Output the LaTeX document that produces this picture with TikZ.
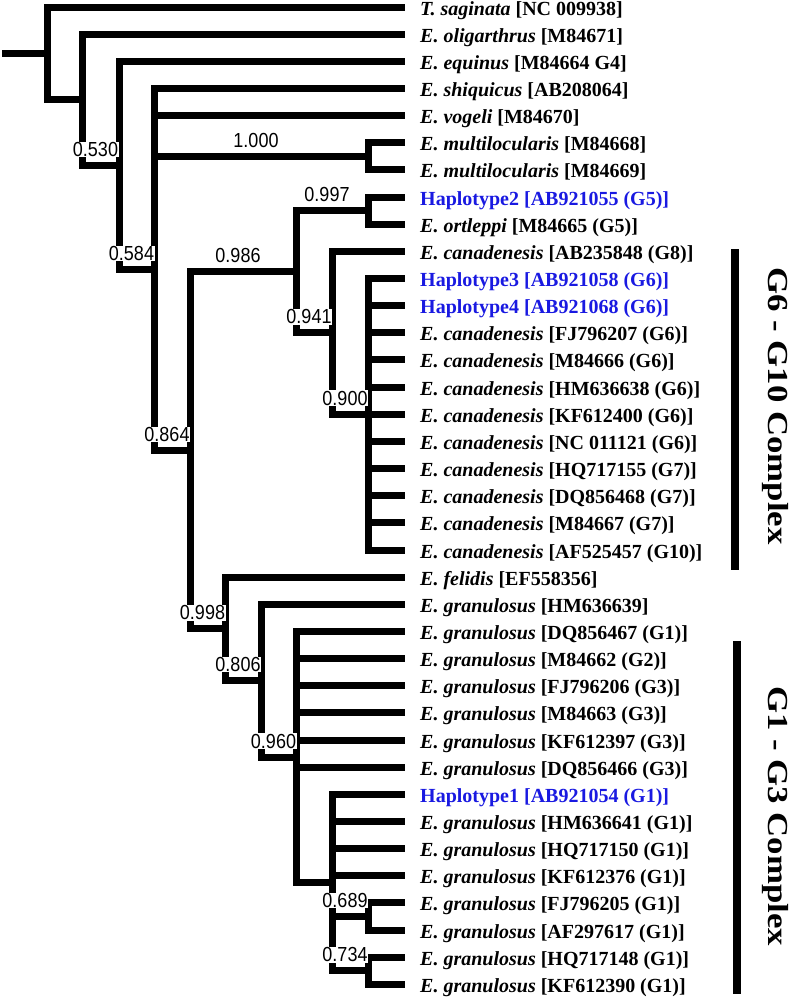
\documentclass[tikz,border=0pt]{standalone}
\usepackage{fontspec}
\setmainfont{Liberation Serif}
\newfontfamily\supfont{Liberation Sans}
\definecolor{hapblue}{RGB}{25,25,225}
\newcommand{\taxon}[2]{\textit{#1} [#2]}
\tikzset{
  branch/.style={line width=7pt},
  leaf/.style={anchor=west, inner xsep=15pt, inner ysep=0pt, text height=17pt, text depth=1pt, font=\fontsize{20}{24}\selectfont\bfseries},
  hap/.style={text=hapblue},
  sup/.style={font=\supfont\fontsize{18}{20}\selectfont, fill=white, inner sep=0.5pt, above=8pt, xshift=-5pt, yscale=1.13},
  cplx/.style={font=\fontsize{29}{32}\selectfont\bfseries, rotate=-90, xscale=1.2},
  bar/.style={line width=8pt}
}
\begin{document}
\begin{tikzpicture}[x=1pt,y=-1pt]
\useasboundingbox (0,0) rectangle (791,999);
\node[leaf] (l0) at (405,7) {\taxon{T. saginata}{NC 009938}};
\node[leaf] (l1) at (405,34.15) {\taxon{E. oligarthrus}{M84671}};
\node[leaf] (l2) at (405,61.3) {\taxon{E. equinus}{M84664 G4}};
\node[leaf] (l3) at (405,88.45) {\taxon{E. shiquicus}{AB208064}};
\node[leaf] (l4) at (405,115.6) {\taxon{E. vogeli}{M84670}};
\node[leaf] (l5) at (405,142.75) {\taxon{E. multilocularis}{M84668}};
\node[leaf] (l6) at (405,169.9) {\taxon{E. multilocularis}{M84669}};
\node[leaf,hap] (l7) at (405,197.05) {Haplotype2 [AB921055 (G5)]};
\node[leaf] (l8) at (405,224.2) {\taxon{E. ortleppi}{M84665 (G5)}};
\node[leaf] (l9) at (405,251.35) {\taxon{E. canadenesis}{AB235848 (G8)}};
\node[leaf,hap] (l10) at (405,278.5) {Haplotype3 [AB921058 (G6)]};
\node[leaf,hap] (l11) at (405,305.65) {Haplotype4 [AB921068 (G6)]};
\node[leaf] (l12) at (405,332.8) {\taxon{E. canadenesis}{FJ796207 (G6)}};
\node[leaf] (l13) at (405,359.95) {\taxon{E. canadenesis}{M84666 (G6)}};
\node[leaf] (l14) at (405,387.1) {\taxon{E. canadenesis}{HM636638 (G6)}};
\node[leaf] (l15) at (405,414.25) {\taxon{E. canadenesis}{KF612400 (G6)}};
\node[leaf] (l16) at (405,441.4) {\taxon{E. canadenesis}{NC 011121 (G6)}};
\node[leaf] (l17) at (405,468.55) {\taxon{E. canadenesis}{HQ717155 (G7)}};
\node[leaf] (l18) at (405,495.7) {\taxon{E. canadenesis}{DQ856468 (G7)}};
\node[leaf] (l19) at (405,522.85) {\taxon{E. canadenesis}{M84667 (G7)}};
\node[leaf] (l20) at (405,550) {\taxon{E. canadenesis}{AF525457 (G10)}};
\node[leaf] (l21) at (405,577.15) {\taxon{E. felidis}{EF558356}};
\node[leaf] (l22) at (405,604.3) {\taxon{E. granulosus}{HM636639}};
\node[leaf] (l23) at (405,631.45) {\taxon{E. granulosus}{DQ856467 (G1)}};
\node[leaf] (l24) at (405,658.6) {\taxon{E. granulosus}{M84662 (G2)}};
\node[leaf] (l25) at (405,685.75) {\taxon{E. granulosus}{FJ796206 (G3)}};
\node[leaf] (l26) at (405,712.9) {\taxon{E. granulosus}{M84663 (G3)}};
\node[leaf] (l27) at (405,740.05) {\taxon{E. granulosus}{KF612397 (G3)}};
\node[leaf] (l28) at (405,767.2) {\taxon{E. granulosus}{DQ856466 (G3)}};
\node[leaf,hap] (l29) at (405,794.35) {Haplotype1 [AB921054 (G1)]};
\node[leaf] (l30) at (405,821.5) {\taxon{E. granulosus}{HM636641 (G1)}};
\node[leaf] (l31) at (405,848.65) {\taxon{E. granulosus}{HQ717150 (G1)}};
\node[leaf] (l32) at (405,875.8) {\taxon{E. granulosus}{KF612376 (G1)}};
\node[leaf] (l33) at (405,902.95) {\taxon{E. granulosus}{FJ796205 (G1)}};
\node[leaf] (l34) at (405,930.1) {\taxon{E. granulosus}{AF297617 (G1)}};
\node[leaf] (l35) at (405,957.25) {\taxon{E. granulosus}{HQ717148 (G1)}};
\node[leaf] (l36) at (405,984.4) {\taxon{E. granulosus}{KF612390 (G1)}};
\coordinate (root) at (2,53.4);
\coordinate (A) at (47,53.4);
\coordinate (B) at (82,99.75);
\coordinate (C) at (119,165.34);
\coordinate (D) at (154,269.38);
\coordinate (mu) at (368,156.33);
\coordinate (E) at (190,450.31);
\coordinate (F) at (296,271.71);
\coordinate (H) at (368,210.63);
\coordinate (I) at (332,332.8);
\coordinate (J) at (368,414.25);
\coordinate (G) at (225,628.9);
\coordinate (K) at (261,680.66);
\coordinate (L) at (296,757.02);
\coordinate (M) at (332,882.59);
\coordinate (N) at (368,916.53);
\coordinate (O) at (368,970.83);
\draw[branch] (root) -- (A);
\foreach \p/\c in {A/l0,A/B,B/l1,B/C,C/l2,C/D,D/l3,D/l4,D/mu,D/E,mu/l5,mu/l6,
  E/F,E/G,F/H,F/I,H/l7,H/l8,I/l9,I/J,J/l10,J/l11,J/l12,J/l13,J/l14,J/l15,J/l16,
  J/l17,J/l18,J/l19,J/l20,G/l21,G/K,K/l22,K/L,L/l23,L/l24,L/l25,L/l26,L/l27,L/l28,
  L/M,M/l29,M/l30,M/l31,M/l32,M/N,M/O,N/l33,N/l34,O/l35,O/l36}
  \draw[branch] (\p) |- (\c);
\foreach \p/\c/\v in {B/C/0.530,C/D/0.584,D/mu/1.000,D/E/0.864,E/F/0.986,F/H/0.997,
  F/I/0.941,I/J/0.900,E/G/0.998,G/K/0.806,K/L/0.960,M/N/0.689,M/O/0.734}
  \path (\p) |- (\c) node[sup,pos=.75] {\v};
\draw[bar] (735,249) -- (735,570);
\draw[bar] (737,641) -- (737,994);
\node[cplx] (cx1) at (775,406) {G6 - G10 Complex};
\node[cplx] (cx2) at (775,816) {G1 - G3 Complex};
\end{tikzpicture}
\end{document}
